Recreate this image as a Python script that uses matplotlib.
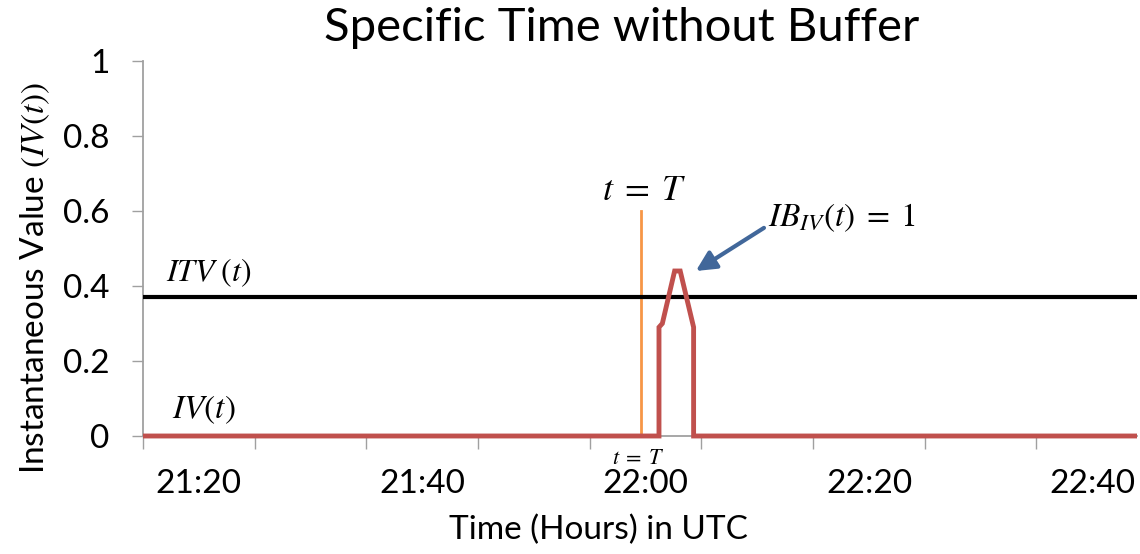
import matplotlib
matplotlib.use("Agg")
import matplotlib.pyplot as plt
from matplotlib.ticker import FixedLocator

plt.rcParams['font.family'] = ['Lato', 'DejaVu Sans']
plt.rcParams['mathtext.fontset'] = 'stix'

# Time expressed as minutes after 21:00 UTC
iv_time = [15, 61.2, 61.2, 61.5, 62.6, 63.1, 64.3, 64.3, 104]
iv_value = [0, 0, 0.29, 0.30, 0.44, 0.44, 0.29, 0, 0]
itv_time = [15, 104]
itv_value = [0.37, 0.37]
t_T = 59.6
t_T_top = 0.6
xtick_pos = [20, 40, 60, 80, 100]
xtick_labels = ['21:20', '21:40', '22:00', '22:20', '22:40']
xminor_pos = [15, 25, 35, 45, 55, 65, 75, 85, 95]
yticks = [0, 0.2, 0.4, 0.6, 0.8, 1]
ytick_labels = ['0', '0.2', '0.4', '0.6', '0.8', '1']

fig = plt.figure(figsize=(11.4, 5.54), dpi=100)
ax = fig.add_axes([143/1140, 1-436/554, (1137-143)/1140, (436-61)/554])

grey = '#A0A0A0'
ax.plot(itv_time, itv_value, color='black', lw=3, solid_capstyle='butt', zorder=3)
ax.plot([t_T, t_T], [0, t_T_top], color='#F79646', lw=2, zorder=2)
ax.plot(iv_time, iv_value, color='#C0504D', lw=3.5, solid_capstyle='butt',
        solid_joinstyle='miter', clip_on=False, zorder=4)

ax.set_xlim(15, 104)
ax.set_ylim(0, 1)
for s in ['top', 'right']:
    ax.spines[s].set_visible(False)
for s in ['left', 'bottom']:
    ax.spines[s].set_color(grey)
    ax.spines[s].set_linewidth(1.3)

ax.set_yticks(yticks)
ax.set_yticklabels(ytick_labels, fontsize=24)
ax.tick_params(axis='y', length=8, width=1, color=grey, pad=16)
ax.set_xticks(xtick_pos)
ax.set_xticklabels(xtick_labels, fontsize=24)
ax.tick_params(axis='x', which='major', length=0, pad=24)
ax.xaxis.set_minor_locator(FixedLocator(xminor_pos))
ax.tick_params(axis='x', which='minor', length=9, width=1, color=grey)

fig.text(622/1140, 1-28/554, 'Specific Time without Buffer', fontsize=34,
         ha='center', va='center')
fig.text(598/1140, 1-530/554, 'Time (Hours) in UTC', fontsize=24,
         ha='center', va='center')
fig.text(35/1140, 1-278/554, r'Instantaneous Value $(IV(t))$', fontsize=24,
         rotation=90, ha='center', va='center')

ax.text(59.9, 0.656, r'$t\;=\;T$', fontsize=26, ha='center', va='center')
ax.text(71.0, 0.581, r'$IB_{IV}(t)\;=\;1$', fontsize=24, ha='left', va='center')
ax.text(17.1, 0.435, r'$ITV\;(t)$', fontsize=23, ha='left', va='center')
ax.text(17.6, 0.069, r'$IV(t)$', fontsize=24, ha='left', va='center')
ax.text(59.4, -0.059, r'$t\;=\;T$', fontsize=16, ha='center', va='center')

ax.annotate('', xy=(64.5, 0.44), xytext=(70.6, 0.555),
            arrowprops=dict(arrowstyle='-|>', lw=3, color='#41679A',
                            mutation_scale=30, shrinkA=0, shrinkB=0))

fig.savefig('out.png', dpi=100)
